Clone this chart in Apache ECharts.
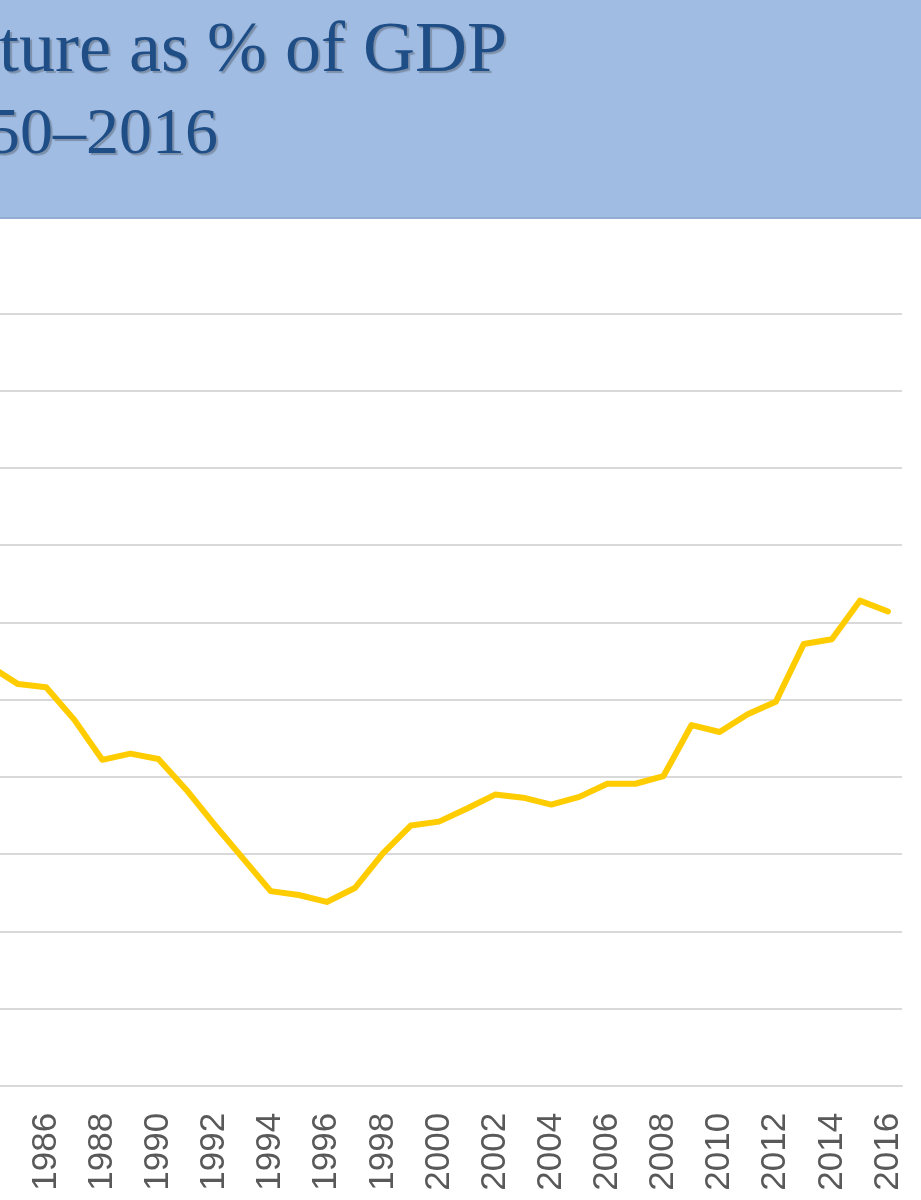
<!DOCTYPE html>
<html>
<head>
<meta charset="utf-8">
<script src="https://cdn.jsdelivr.net/npm/echarts@6/dist/echarts.min.js"></script>
<style>
html,body{margin:0;padding:0;background:#ffffff;}
#chart{width:921px;height:1200px;}
</style>
</head>
<body>
<div id="chart"></div>
<script>
// ---- data ----
const titleLine1 = 'Expenditure as % of GDP';
const titleLine2 = '1950–2016';
const years = ['1984','1985','1986','1987','1988','1989','1990','1991','1992','1993',
               '1994','1995','1996','1997','1998','1999','2000','2001','2002','2003',
               '2004','2005','2006','2007','2008','2009','2010','2011','2012','2013',
               '2014','2015','2016'];
const values = [5.43,5.20,5.16,4.74,4.22,4.30,4.23,3.83,3.38,2.95,
                2.52,2.47,2.38,2.56,3.01,3.37,3.42,3.59,3.77,3.73,
                3.64,3.74,3.91,3.91,4.01,4.67,4.58,4.81,4.97,5.72,
                5.78,6.28,6.14];
const yMin = 0, yMax = 10, yStep = 1;

const chart = echarts.init(document.getElementById('chart'), null, {renderer:'canvas'});
chart.setOption({
  animation: false,
  backgroundColor: '#ffffff',
  graphic: [
    {type:'rect', left:0, top:0, shape:{x:0,y:0,width:921,height:218}, style:{fill:'#a0bce3'}, z:0},
    {type:'rect', left:0, top:217, shape:{x:0,y:0,width:921,height:2}, style:{fill:'#93acd3'}, z:0},
    {type:'text', z:10, style:{text:titleLine1, x:507, y:52, textAlign:'right', textVerticalAlign:'middle',
      font:'72px "Liberation Serif", serif', fill:'#1f4e86',
      textShadowColor:'rgba(60,60,60,0.35)', textShadowOffsetX:2, textShadowOffsetY:2, textShadowBlur:1}},
    {type:'text', z:10, style:{text:titleLine2, x:218, y:136, textAlign:'right', textVerticalAlign:'middle',
      font:'66px "Liberation Serif", serif', fill:'#1f4e86',
      textShadowColor:'rgba(60,60,60,0.35)', textShadowOffsetX:2, textShadowOffsetY:2, textShadowBlur:1}}
  ],
  grid: {left:-24, right:19, top:313.3, bottom:114.2, containLabel:false, outerBoundsMode:'none'},
  xAxis: {
    type:'category', data: years, boundaryGap:true,
    axisLine:{show:true, lineStyle:{color:'#d9d9d9', width:2}},
    axisTick:{show:false},
    axisLabel:{rotate:90, interval:1, margin:27, fontSize:35, showMinLabel:true, hideOverlap:false,
      fontFamily:'"Liberation Sans", Arial, sans-serif', color:'#595959'},
    splitLine:{show:false}
  },
  yAxis: {
    type:'value', min:yMin, max:yMax, interval:yStep,
    axisLine:{show:false}, axisTick:{show:false},
    axisLabel:{show:false},
    splitLine:{show:true, lineStyle:{color:'#d9d9d9', width:2}}
  },
  series: [{
    type:'line', data: values, symbol:'none', smooth:false,
    lineStyle:{color:'#ffcc00', width:6, cap:'round', join:'round'},
    z:5
  }]
});
</script>
</body>
</html>
